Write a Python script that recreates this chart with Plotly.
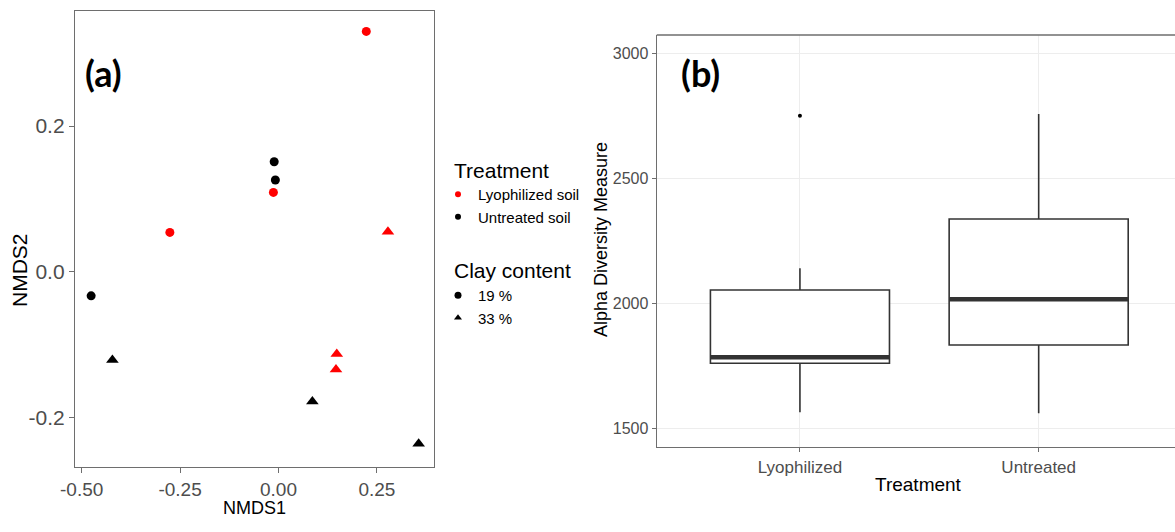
import plotly.graph_objects as go

# ---------------- Panel (a): NMDS ordination ----------------
nmds1 = [0.223, -0.011, -0.008, -0.013, -0.276, 0.278, -0.476, -0.422, 0.148, 0.146, 0.086, 0.356]
nmds2 = [0.330, 0.151, 0.126, 0.109, 0.054, 0.055, -0.033, -0.121, -0.113, -0.134, -0.178, -0.236]
treatment = ["Lyophilized soil", "Untreated soil", "Untreated soil", "Lyophilized soil",
             "Lyophilized soil", "Lyophilized soil", "Untreated soil", "Untreated soil",
             "Lyophilized soil", "Lyophilized soil", "Untreated soil", "Untreated soil"]
clay = ["19 %", "19 %", "19 %", "19 %", "19 %", "33 %", "19 %", "33 %", "33 %", "33 %", "33 %", "33 %"]

treatment_levels = ["Lyophilized soil", "Untreated soil"]
clay_levels = ["19 %", "33 %"]
nmds_xticks = [-0.50, -0.25, 0.00, 0.25]
nmds_xticktext = ["-0.50", "-0.25", "0.00", "0.25"]
nmds_yticks = [-0.2, 0.0, 0.2]
nmds_yticktext = ["-0.2", "0.0", "0.2"]

# ---------------- Panel (b): alpha diversity boxplot ----------------
box_categories = ["Lyophilized", "Untreated"]
box_q1 = [1760, 1833]
box_median = [1784, 2016]
box_q3 = [2053, 2337]
box_lower = [1564, 1560]
box_upper = [2140, 2757]
outlier_category = ["Lyophilized"]
outlier_value = [2750]
alpha_yticks = [1500, 2000, 2500, 3000]

# ---------------- styling ----------------
color_map = {"Lyophilized soil": "#ff0000", "Untreated soil": "#000000"}
symbol_map = {"19 %": "circle", "33 %": "triangle-up"}
size_map = {"19 %": 9, "33 %": 11}
FONT = "Liberation Sans Narrow, Arial Narrow, Liberation Sans, Arial, sans-serif"
TICKC = "#4d4d4d"
FRAME = "#6e6e6e"

fig = go.Figure()

# scatter points grouped by treatment x clay
for t in treatment_levels:
    for c in clay_levels:
        xs = [x for x, tt, cc in zip(nmds1, treatment, clay) if tt == t and cc == c]
        ys = [y for y, tt, cc in zip(nmds2, treatment, clay) if tt == t and cc == c]
        fig.add_trace(go.Scatter(
            x=xs, y=ys, mode="markers", xaxis="x", yaxis="y", showlegend=False,
            marker=dict(color=color_map[t], symbol=symbol_map[c], size=size_map[c], line=dict(width=0)),
            hoverinfo="x+y"))

# legend-only traces
for t in treatment_levels:
    fig.add_trace(go.Scatter(x=[None], y=[None], mode="markers", name=t, legend="legend",
                             xaxis="x", yaxis="y",
                             marker=dict(color=color_map[t], symbol="circle", size=6)))
for c in clay_levels:
    fig.add_trace(go.Scatter(x=[None], y=[None], mode="markers", name=c, legend="legend2",
                             xaxis="x", yaxis="y",
                             marker=dict(color="#000000", symbol=symbol_map[c], size=7)))

# boxplot
cat_pos = list(range(len(box_categories)))
BOX_W = 0.75
fig.add_trace(go.Box(
    x=cat_pos, q1=box_q1, median=box_median, q3=box_q3,
    lowerfence=box_lower, upperfence=box_upper,
    xaxis="x2", yaxis="y2", width=BOX_W, whiskerwidth=0,
    fillcolor="white", line=dict(color="#333333", width=1.6),
    boxpoints=False, showlegend=False))
# thicker median bars (ggplot style)
for i, m in zip(cat_pos, box_median):
    fig.add_trace(go.Scatter(x=[i - BOX_W / 2, i + BOX_W / 2], y=[m, m], mode="lines",
                             xaxis="x2", yaxis="y2", showlegend=False,
                             line=dict(color="#333333", width=4.5), hoverinfo="skip"))
# outlier
fig.add_trace(go.Scatter(x=[box_categories.index(c) for c in outlier_category], y=outlier_value,
                         mode="markers", xaxis="x2", yaxis="y2", showlegend=False,
                         marker=dict(color="#000000", size=4)))

W, H = 1175, 532
def px(x):
    return x / W
def py(y):
    return 1 - y / H

fig.update_layout(
    width=W, height=H, margin=dict(l=0, r=0, t=0, b=0, autoexpand=False),
    paper_bgcolor="white", plot_bgcolor="white",
    font=dict(family=FONT, color="#000000"),
    xaxis=dict(domain=[px(75), px(434)], range=[-0.517, 0.395], anchor="y", automargin=False,
               tickvals=nmds_xticks, ticktext=nmds_xticktext,
               showgrid=False, zeroline=False, showline=True, mirror=True,
               linecolor=FRAME, linewidth=1.3, ticks="outside", ticklen=5, tickcolor=FRAME,
               tickfont=dict(size=19, color=TICKC, family=FONT)),
    yaxis=dict(domain=[py(467), py(11)], range=[-0.268, 0.358], anchor="x", automargin=False,
               tickvals=nmds_yticks, ticktext=nmds_yticktext,
               showgrid=False, zeroline=False, showline=True, mirror=True,
               linecolor=FRAME, linewidth=1.3, ticks="outside", ticklen=5, tickcolor=FRAME,
               tickfont=dict(size=21, color=TICKC, family=FONT)),
    xaxis2=dict(domain=[px(656.7), 1.0], range=[-0.6, 1.571], anchor="y2", automargin=False,
                tickvals=cat_pos, ticktext=box_categories,
                showgrid=True, gridcolor="#ededed", gridwidth=1, zeroline=False,
                showline=True, linecolor=FRAME, linewidth=1.3,
                ticks="outside", ticklen=4, tickcolor=FRAME,
                tickfont=dict(size=17, color=TICKC, family=FONT)),
    yaxis2=dict(domain=[py(447), py(35)], range=[1425, 3073], anchor="x2", automargin=False,
                tickvals=alpha_yticks,
                showgrid=True, gridcolor="#ededed", gridwidth=1, zeroline=False,
                showline=True, linecolor=FRAME, linewidth=1.3,
                ticks="outside", ticklen=4, tickcolor=FRAME,
                tickfont=dict(size=16, color=TICKC, family=FONT)),
    legend=dict(x=px(438), y=py(178), xanchor="left", yanchor="top",
                font=dict(size=15, family=FONT), bgcolor="rgba(0,0,0,0)",
                itemwidth=30, tracegroupgap=0),
    legend2=dict(x=px(438), y=py(279), xanchor="left", yanchor="top",
                 font=dict(size=15, family=FONT), bgcolor="rgba(0,0,0,0)",
                 itemwidth=30, tracegroupgap=0),
    shapes=[dict(type="line", xref="x2 domain", yref="y2 domain", x0=0, x1=1.05, y0=1, y1=1,
                 line=dict(color=FRAME, width=1.3))],
    annotations=[
        dict(text="<b>(a)</b>", x=px(83), y=py(73), xref="paper", yref="paper",
             xanchor="left", yanchor="middle", showarrow=False,
             font=dict(size=36, family="Lato, Open Sans, sans-serif", color="#000000")),
        dict(text="<b>(b)</b>", x=px(679), y=py(73), xref="paper", yref="paper",
             xanchor="left", yanchor="middle", showarrow=False,
             font=dict(size=36, family="Lato, Open Sans, sans-serif", color="#000000")),
        dict(text="NMDS2", x=px(19), y=py(270), xref="paper", yref="paper", textangle=-90,
             xanchor="center", yanchor="middle", showarrow=False, font=dict(size=21, family=FONT)),
        dict(text="NMDS1", x=px(254), y=py(508), xref="paper", yref="paper",
             xanchor="center", yanchor="middle", showarrow=False, font=dict(size=18, family=FONT)),
        dict(text="Alpha Diversity Measure", x=px(601), y=py(240), xref="paper", yref="paper",
             textangle=-90, xanchor="center", yanchor="middle", showarrow=False,
             font=dict(size=18, family=FONT)),
        dict(text="Treatment", x=px(918), y=py(484), xref="paper", yref="paper",
             xanchor="center", yanchor="middle", showarrow=False, font=dict(size=19, family=FONT)),
        dict(text="Treatment", x=px(452), y=py(170), xref="paper", yref="paper",
             xanchor="left", yanchor="middle", showarrow=False, font=dict(size=21, family=FONT)),
        dict(text="Clay content", x=px(452), y=py(270), xref="paper", yref="paper",
             xanchor="left", yanchor="middle", showarrow=False, font=dict(size=21, family=FONT)),
    ],
)

fig.write_html("out.html")
